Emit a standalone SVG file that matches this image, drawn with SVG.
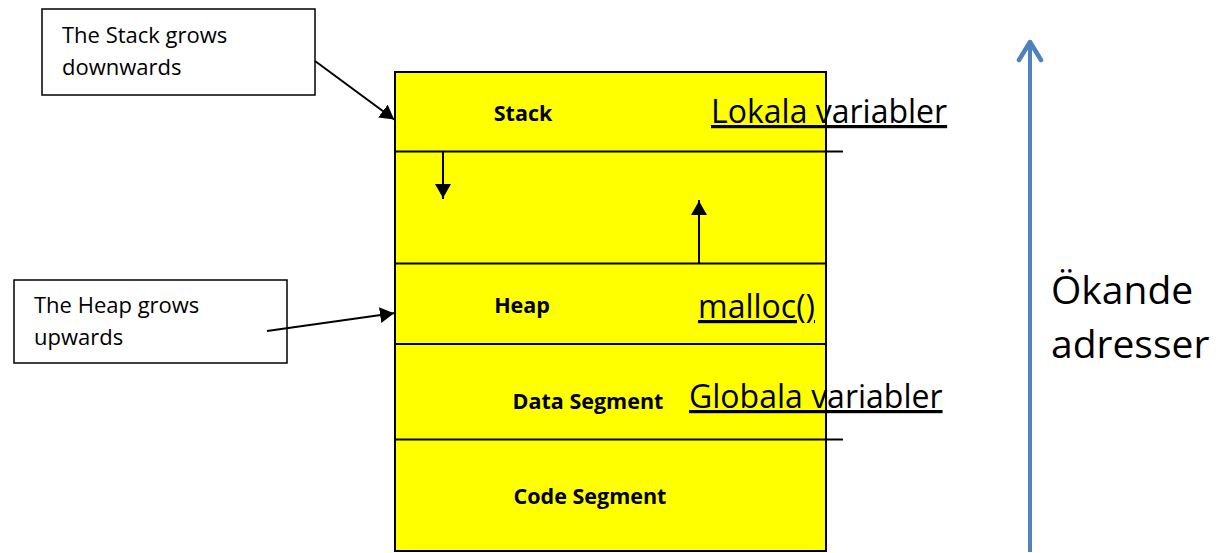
<svg xmlns="http://www.w3.org/2000/svg" width="1221" height="553" viewBox="0 0 1221 553">
<defs>
<style>
.box{fill:#fff;stroke:#000;stroke-width:1.5}
.seg{fill:#ffff00;stroke:#000;stroke-width:2}
.ln{stroke:#000;stroke-width:2;fill:none}
.t{font-family:"Open Sans","Noto Sans",sans-serif;font-size:22px;fill:#000}
.b{font-family:"Open Sans","Noto Sans",sans-serif;font-size:21.5px;font-weight:bold;fill:#000}
.big{font-family:"Open Sans","Noto Sans",sans-serif;font-size:32px;fill:#000;text-decoration:underline}
.huge{font-family:"Open Sans","Noto Sans",sans-serif;font-size:39px;fill:#000}
</style>
<marker id="ah2" viewBox="0 0 16 16" refX="15" refY="8" markerWidth="16" markerHeight="16" markerUnits="userSpaceOnUse" orient="auto">
<path d="M0,0 L14,8 L0,16 z" fill="#000"/>
</marker>
</defs>
<rect width="1221" height="553" fill="#fff"/>
<g id="memory">
<rect class="seg" x="395" y="72" width="431" height="479"/>
<line class="ln" x1="395" y1="151.5" x2="843" y2="151.5"/>
<line class="ln" x1="395" y1="263.5" x2="826" y2="263.5"/>
<line class="ln" x1="395" y1="344" x2="826" y2="344"/>
<line class="ln" x1="395" y1="439.5" x2="843" y2="439.5"/>
</g>
<g id="stack"><text class="b" x="523" y="121" text-anchor="middle">Stack</text></g>
<g id="heap"><text class="b" x="522" y="313" text-anchor="middle">Heap</text></g>
<g id="data"><text class="b" x="588" y="409" text-anchor="middle">Data Segment</text></g>
<g id="code"><text class="b" x="590" y="504" text-anchor="middle">Code Segment</text></g>
<g id="lokala"><text class="big" x="711" y="123">Lokala variabler</text></g>
<g id="malloc"><text class="big" x="698" y="318">malloc()</text></g>
<g id="globala"><text class="big" x="689" y="408">Globala variabler</text></g>
<g id="callout-stack">
<rect class="box" x="42" y="9" width="273" height="86"/>
<text class="t" x="62" y="43">The Stack grows</text>
<text class="t" x="62" y="75">downwards</text>
</g>
<g id="callout-heap">
<rect class="box" x="14" y="280" width="273" height="83"/>
<text class="t" x="34" y="313">The Heap grows</text>
<text class="t" x="34" y="345">upwards</text>
</g>
<g id="label-addr">
<text class="huge" x="1051" y="304">Ökande</text>
<text class="huge" x="1051" y="358">adresser</text>
</g>
<g id="connectors">
<line class="ln" x1="315" y1="61" x2="395" y2="120" marker-end="url(#ah2)"/>
<line class="ln" x1="267" y1="331" x2="395" y2="313" marker-end="url(#ah2)"/>
<line class="ln" x1="443" y1="152" x2="443" y2="199" marker-end="url(#ah2)"/>
<line class="ln" x1="699" y1="263" x2="699" y2="200" marker-end="url(#ah2)"/>
<line x1="1030" y1="552" x2="1030" y2="43" stroke="#4f81bd" stroke-width="4"/>
<path d="M1019,60 L1030,42 L1041,60" fill="none" stroke="#4f81bd" stroke-width="4.5" stroke-linecap="round" stroke-linejoin="round"/>
</g>
</svg>
